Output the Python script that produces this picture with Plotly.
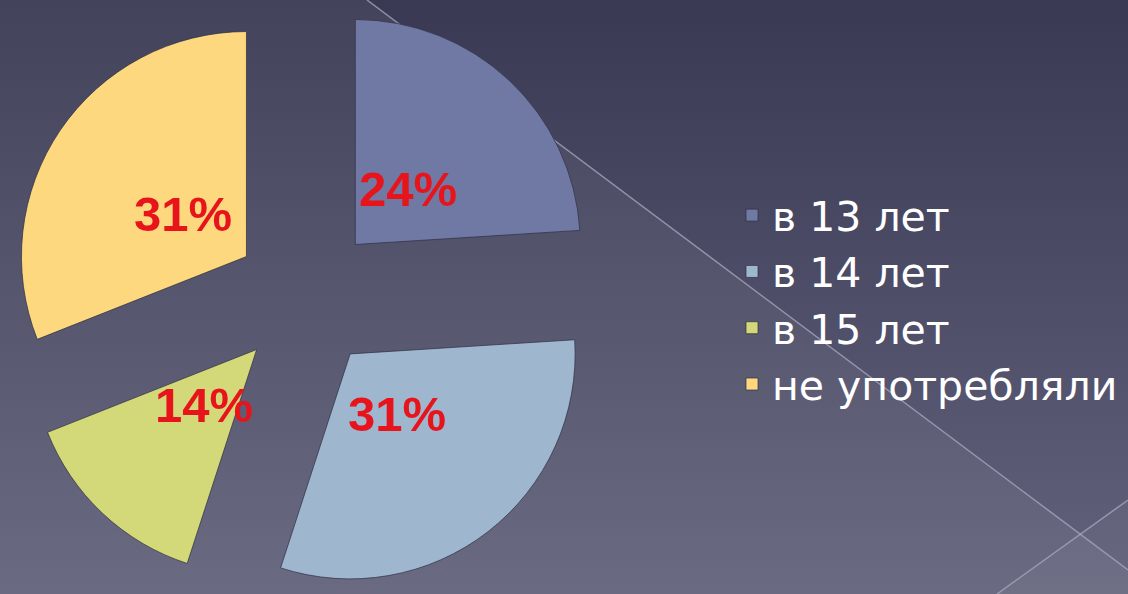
import base64
import math
import plotly.graph_objects as go

# ---- data ----
categories = ['в 13 лет', 'в 14 лет', 'в 15 лет', 'не употребляли']
values = [24, 31, 14, 31]
colors = ['#7079a3', '#9fb6cf', '#d3d879', '#fdd87f']

# ---- layout settings ----
W, H = 1128, 594
PULL = 0.32
CX = 306 / W            # pie centre (paper x)
HALF_X = 0.27           # half of domain width (paper) -> height is the limiting side
LABEL_FRAC = 0.34       # label distance beyond the pulled apex, in radii

bg_svg = f"""<svg xmlns='http://www.w3.org/2000/svg' width='{W}' height='{H}' viewBox='0 0 {W} {H}' preserveAspectRatio='none'>
<defs><linearGradient id='g' x1='0' y1='0' x2='0' y2='1'>
<stop offset='0' stop-color='#393953'/><stop offset='1' stop-color='#62627c'/></linearGradient></defs>
<rect width='{W}' height='{H}' fill='url(#g)'/>
<polygon points='0,0 367,0 1128,570 1128,594 0,594' fill='#ffffff' fill-opacity='0.05'/>
<polygon points='997,594 1128,500 1128,594' fill='#ffffff' fill-opacity='0.04'/>
<line x1='367' y1='0' x2='1128' y2='570' stroke='#a4a4bc' stroke-width='1.5' stroke-opacity='0.8'/>
<line x1='997' y1='594' x2='1128' y2='500' stroke='#a4a4bc' stroke-width='1.5' stroke-opacity='0.8'/>
</svg>"""
bg_uri = "data:image/svg+xml;base64," + base64.b64encode(bg_svg.encode("utf-8")).decode("ascii")

fig = go.Figure()
fig.add_trace(go.Pie(
    labels=categories,
    values=values,
    sort=False,
    direction='clockwise',
    rotation=0,
    pull=[PULL] * len(values),
    marker=dict(colors=colors, line=dict(color='rgba(45,45,65,0.7)', width=1)),
    textinfo='none',
    hoverinfo='label+percent',
    domain=dict(x=[max(0, CX - HALF_X), min(1, CX + HALF_X)], y=[0, 1]),
))

# percentage labels, placed along each slice's mid-angle
total = sum(values)
r_px = (H / 2) / (1 + PULL)
dist = (PULL + LABEL_FRAC) * r_px
cum = 0
annotations = []
for v in values:
    mid = (cum + v / 2) / total * 2 * math.pi
    cum += v
    dx = dist * math.sin(mid)
    dy = dist * math.cos(mid)
    annotations.append(dict(
        x=CX + dx / W, y=0.5 + dy / H, xref='paper', yref='paper',
        text=f"{round(v / total * 100)}%", showarrow=False,
        xanchor='center', yanchor='middle',
        font=dict(family='Liberation Sans, Arial, sans-serif', size=49, color='#e8141c', weight='bold'),
    ))

fig.update_layout(
    width=W, height=H,
    margin=dict(l=0, r=0, t=0, b=0, autoexpand=False),
    paper_bgcolor='#4a4a66',
    plot_bgcolor='rgba(0,0,0,0)',
    images=[dict(source=bg_uri, xref='paper', yref='paper', x=0, y=1,
                 sizex=1, sizey=1, sizing='stretch', layer='below', xanchor='left', yanchor='top')],
    showlegend=True,
    legend=dict(x=732 / W, xanchor='left', y=0.495, yanchor='middle',
                bgcolor='rgba(0,0,0,0)', borderwidth=0,
                font=dict(family='DejaVu Sans, sans-serif', size=41, color='#ffffff'),
                traceorder='normal'),
    annotations=annotations,
)

fig.write_html("out.html",
               config={'displayModeBar': False},
               post_script="document.body.style.margin='0';document.body.style.overflow='hidden';")
